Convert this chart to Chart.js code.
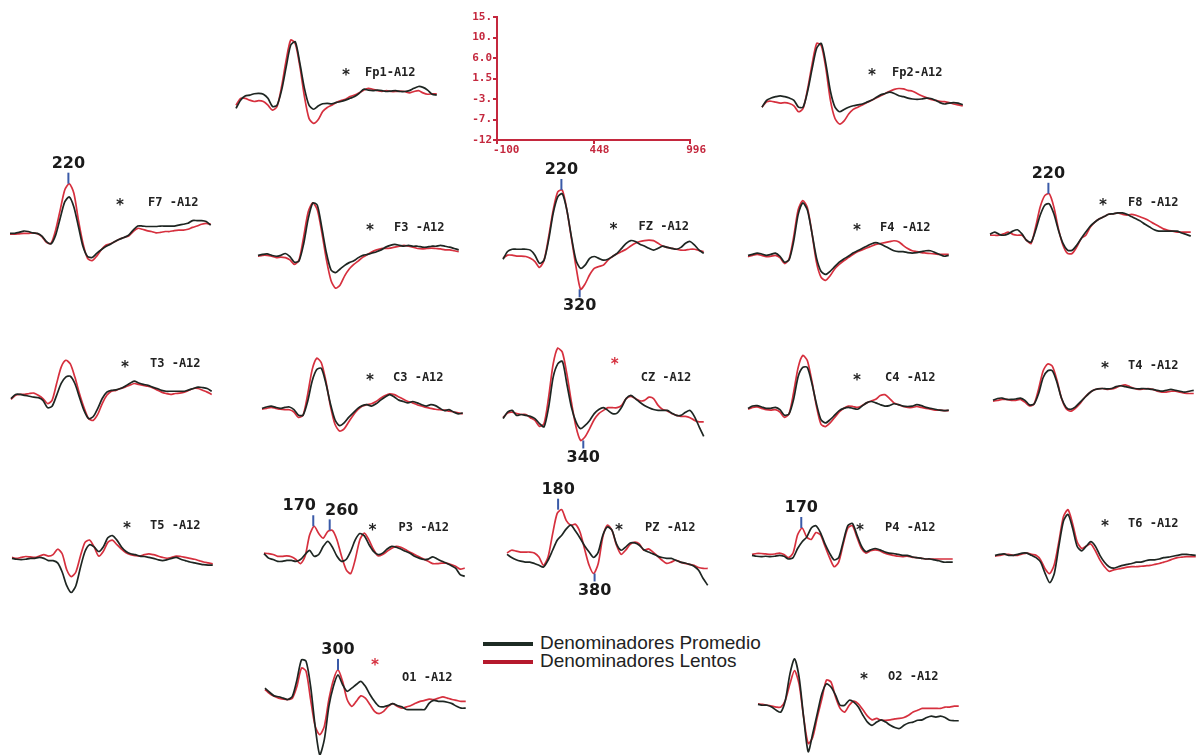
<!DOCTYPE html>
<html>
<head>
<meta charset="utf-8">
<script src="https://cdn.jsdelivr.net/npm/chart.js@4.4.1/dist/chart.umd.min.js"></script>
<style>
  body { margin: 0; background: #fff; width: 1197px; height: 755px; overflow: hidden; position: relative; }
  canvas { position: absolute; }
  .legline { position: absolute; left: 483px; width: 50px; height: 4px; }
  .legtxt { position: absolute; left: 540px; font: 19px "Liberation Sans", Arial, sans-serif; line-height: 18px; color: #222; white-space: nowrap; }
</style>
</head>
<body>
<div class="legline" style="top:642px;background:#1d2b24"></div>
<div class="legline" style="top:660px;background:#b5192d"></div>
<div class="legtxt" style="top:634px">Denominadores Promedio</div>
<div class="legtxt" style="top:652px">Denominadores Lentos</div>
<script>
// tiempo (ms) de cada muestra
const times = [-100,-75,-50,-25,0,25,50,75,100,125,150,175,200,225,250,275,300,325,350,375,400,425,450,475,500,525,550,575,600,625,650,675,700,725,750,775,800,825,850,875,900,925,950,975,1000]

// escala de referencia
const scaleX = [-100, 448, 996]
const scaleY = [-12, -7.5, -3, 1.5, 6, 10.5, 15]
const scaleYLabels = ['-12', '-7.', '-3.', '1.5', '6.0', '10.', '15.']

// uV por canal: Promedio (negro) y Lentos (rojo)
const fp1Prom = [-2.2,-0.4,0.5,0.7,1.0,1.1,0.9,0,-1.8,-1.5,1.8,6.9,11.7,12.4,7.7,2.2,-1.5,-2.4,-1.7,-1.2,-1.1,-1.2,-0.9,-0.7,-0.4,0,0.4,1.1,2.0,1.8,1.7,1.8,1.7,1.5,1.6,1.7,1.5,1.5,1.7,2.2,2.6,2.4,1.8,0.9,0.7]
const fp1Lent = [-1.5,0,0,-0.4,-0.7,-0.5,-0.7,-1.5,-2.6,-1.8,2.6,8.4,12.8,12.0,7.0,0.4,-4.4,-5.5,-4.7,-2.9,-2.0,-1.5,-0.9,-0.5,-0.2,0.4,0.7,1.2,1.8,2.2,2.0,1.7,1.5,1.7,1.5,1.5,1.6,1.5,1.2,1.5,1.7,1.2,0.9,1.0,1.0]
const fp2Prom = [-1.5,0,0.5,0.8,1.0,0.8,0.5,0,-1.5,-1.5,2,7,11.5,12.5,8,2,-1.5,-2.5,-2.0,-1.5,-1.2,-1.0,-0.8,-0.4,0,0.6,1.2,1.5,1.8,1.5,1.0,0.8,0.5,0.3,0.2,0.3,0.5,0.4,0.0,-0.5,-0.8,-0.6,-0.5,-0.6,-1.0]
const fp2Lent = [-1.5,-0.3,-0.2,-0.4,-0.6,-0.5,-0.7,-1.2,-2.5,-1.8,2.5,8,12.5,12,7,0,-4,-5.2,-4.5,-3,-2,-1.5,-1,-0.5,0,0.5,1,1.5,2,2.4,2.6,2.5,2.2,2.0,1.5,1.0,0.6,0.2,0,-0.2,-0.3,-0.5,-0.8,-1.0,-1.2]
const f7Prom = [0,0,0.2,0.5,0.4,0.1,0,-0.6,-1.8,-2.3,-0.4,3.3,6.9,8.0,5.8,1.5,-2.9,-5.1,-5.3,-4.4,-3.6,-2.9,-2.4,-1.8,-1.3,-0.9,-0.4,0.7,1.6,1.6,1.5,1.5,1.5,1.6,1.6,1.6,1.6,1.8,2.0,2.2,2.8,2.8,2.8,2.6,1.8]
const f7Lent = [-0.2,-0.2,-0.1,0,0,0.1,-0.1,-0.7,-2.0,-2.2,0.7,5.1,9.5,10.9,8.8,2.9,-2.2,-5.5,-6.0,-5.0,-3.6,-2.6,-2.3,-1.8,-1.3,-0.9,-0.6,0.4,1.1,0.9,0.6,0.4,0.1,0.2,0.4,0.4,0.6,0.7,0.7,0.9,1.3,1.6,2.0,2.2,2.0]
const f3Prom = [0,0.2,0.3,0,-0.2,0,0.4,-0.3,-1.5,-1.2,2.5,8,11.5,11,6,0.5,-3.2,-3.8,-3,-2.2,-1.6,-1.2,-0.5,0,0.2,0.5,0.8,1.2,1.8,2.2,2.4,2.2,2.0,2.2,2.0,2.0,1.8,1.8,2.0,2.0,2.2,2.0,1.8,1.5,1.2]
const f3Lent = [-0.2,0,0,-0.2,-0.5,-0.4,-0.5,-1.0,-2.0,-1.0,4.0,9.5,11.5,10,5,-1,-5.5,-7.2,-6.5,-4.5,-3,-2,-1.2,-0.4,0.2,0.8,1.2,1.5,1.5,1.6,1.8,2.0,2.2,2.0,1.8,1.5,1.4,1.5,1.6,1.5,1.4,1.2,1.2,1.0,0.8]
const fzProm = [-1.3,0.4,0.9,0.9,0.9,0.9,0.7,-0.4,-2.2,-1.5,2.9,8.8,12.4,13.1,9.5,3.6,-1.5,-3.3,-2.6,-1.1,-0.7,-1.1,-1.5,-1.3,-0.7,0,1.1,2.2,2.8,2.6,2.0,1.6,1.1,0.7,1.1,1.6,1.3,1.1,0.9,1.3,2.2,2.6,1.8,0.7,0]
const fzLent = [-1.1,-0.4,-0.4,-0.6,-0.6,-0.7,-1.1,-1.8,-3.1,-1.5,3.6,9.5,13.5,13.9,9.5,3.3,-2.9,-7.9,-6.7,-4.7,-3.3,-2.9,-2.6,-1.5,-0.7,-0.1,0.4,0.9,1.6,2.2,2.6,2.8,2.9,2.8,2.2,1.6,1.3,1.1,0.9,0.7,0.7,0.9,0.9,0.6,0.4]
const f4Prom = [0,0.2,0.5,0.3,0,0.2,0.5,-0.2,-1.5,-1.0,3,9,11.5,10,5,-0.5,-3.5,-4.2,-3.5,-2.5,-1.5,-0.8,-0.2,0.5,1.0,1.5,2.0,2.5,2.8,2.5,2.0,1.5,1.0,0.8,0.8,0.6,0.5,0.6,0.8,1.0,1.0,0.6,0.2,-0.2,0]
const f4Lent = [-0.3,0,0.2,0,-0.3,-0.2,0,-0.5,-1.8,-0.8,4,10,12,10.5,5,-1.5,-4.8,-5.5,-4.5,-3,-2,-1.2,-0.5,0.2,0.8,1.2,1.6,2.0,2.4,2.6,2.8,3.0,3.2,3.0,2.2,1.5,1.0,0.8,0.6,0.5,0.4,0.3,0.2,0.2,0.2]
const f8Prom = [0,0.5,0,-0.2,0.1,0.7,1.0,0.1,-1.3,-1.7,0.9,4.2,6.4,6.7,4.5,0.9,-2.0,-3.5,-3.5,-2.4,-0.9,0.5,1.8,2.7,3.4,3.9,4.4,4.5,4.7,4.7,4.4,3.9,3.4,2.9,2.2,1.6,1.0,0.7,0.7,0.7,0.7,0.7,0.3,0,-0.4]
const f8Lent = [-0.2,-0.2,-0.2,0.1,0.5,0,-0.2,-0.2,-1.3,-2.0,1.6,6.0,8.5,8.9,6.0,1.2,-2.4,-4.2,-4.2,-2.8,-0.9,-0.2,1.6,2.7,3.4,3.9,4.4,4.5,4.7,4.4,4.2,4.4,4.2,3.8,3.4,2.9,2.3,1.8,1.2,0.9,0.7,0.5,0.5,0.5,0.5]
const t3Prom = [-0.7,0.2,0.2,0,-0.2,-0.4,-0.5,-1.1,-2.7,-2.4,0,2.6,4.0,4.2,2.6,-0.4,-3.3,-5.1,-4.7,-2.9,-0.7,0.7,1.1,1.2,1.5,2.0,2.6,3.1,2.7,2.4,2.2,1.8,1.5,1.1,0.9,0.9,0.9,0.9,0.9,1.2,1.5,1.8,1.7,1.5,0.9]
const t3Lent = [-0.9,0,0.2,0.2,0.4,0.5,0,-0.7,-1.8,-1.1,2.6,6.2,7.7,6.9,4.0,0.4,-2.7,-5.1,-5.5,-4.2,-1.8,0,0.9,1.1,1.5,1.8,2.2,2.6,2.4,2.2,2.0,1.7,1.2,0.7,0.4,0.2,0.4,0.5,0.7,1.1,1.5,1.5,1.1,0.7,0.2]
const c3Prom = [0,0.3,0.5,0.2,0,0.2,0.3,-0.3,-1.5,-1.5,1.5,6,8.5,8.8,5.5,1,-2.5,-3.8,-3.2,-2,-1,0,0.6,0.8,0.5,1.0,1.8,2.5,3.0,2.5,1.8,1.5,1.2,1.5,1.2,0.8,0.5,0.8,0.6,0.0,-0.5,-0.3,-0.8,-1.2,-1.0]
const c3Lent = [-0.2,0,0.2,0,-0.2,-0.3,-0.3,-0.8,-2,-1.5,3,8.5,11,10,6,0.5,-3.5,-5,-4.5,-3,-1.5,-0.3,0.5,0.8,1.0,1.5,2.2,2.8,3.2,3.0,2.5,2.0,1.5,1.2,0.8,0.5,0.2,0,-0.2,-0.3,-0.4,-0.6,-0.8,-1.0,-1.2]
const czProm = [-0.5,0.9,1.3,0.2,0.4,0.2,0,-0.5,-1.6,-2.3,2.0,8.6,11.5,12.1,7.1,2.0,-1.2,-2.7,-2.0,-0.9,0.6,1.5,1.9,1.3,0.6,0.7,2.0,3.9,4.6,3.9,3.1,2.4,1.9,1.5,1.3,1.3,1.3,0.7,0.2,0.2,0.9,1.3,-0.1,-2.3,-4.4]
const czLent = [-0.3,0.7,0.9,0.6,0.4,0.4,-0.3,-0.9,-2.2,-1.6,4.2,11.5,15.0,14.1,9.3,3.1,-2.3,-5.3,-4.5,-2.7,-0.7,0.6,1.3,1.9,1.9,1.9,2.4,3.9,4.4,3.9,3.4,3.5,4.2,3.9,2.4,1.5,1.2,0.6,0.2,0,0,-0.3,-0.9,-1.2,-1.2]
const c4Prom = [0,0.5,0.6,0.3,0,0,0.2,-0.3,-1.5,-1.2,2,7,9,9,5.5,1,-2.5,-3.2,-2.5,-1.5,-0.5,0,0.2,0,-0.2,0.5,1.2,1.5,1.2,0.8,0.5,0.6,1.0,0.8,0.5,0.4,0.5,0.8,0.6,0.2,0,-0.2,-0.4,-0.5,-0.4]
const c4Lent = [-0.2,0.2,0.3,0,-0.3,-0.4,-0.3,-0.8,-2,-1.2,3.5,9,11.6,10.5,6,0.5,-3.5,-4,-3.2,-2,-0.8,0,0.5,0.4,0.2,0.6,1.2,1.6,2.0,2.8,3.0,2.2,1.2,0.8,0.4,0.2,0.2,0.4,0.2,0,-0.2,-0.4,-0.4,-0.5,-0.5]
const t4Prom = [0,0.4,0.5,0.2,0.2,0.3,0.5,0,-1,-0.8,1.5,5,6.5,6.5,4,0.5,-1.5,-2,-1.5,-0.5,0.5,1.5,2.2,2.5,2.6,2.5,2.6,3,3.2,3,2.8,2.6,2.5,2.6,2.5,2.4,2.2,2.0,2.2,2.4,2.2,2.0,1.8,2.0,2.2]
const t4Lent = [-0.2,0,0.2,0.2,0,0,0.2,-0.4,-1.2,-0.8,2.5,6.5,8,7.5,4.5,0.5,-1.8,-2.4,-1.8,-0.8,0.5,1.5,2.2,2.5,2.6,2.4,2.5,2.8,3.2,3.4,3.0,2.6,2.4,2.5,2.6,2.4,2.0,1.8,1.8,2.0,2.0,1.8,1.6,1.5,1.5]
const t5Prom = [0,-0.2,-0.3,-0.2,0,0,0.2,0,-0.5,-0.5,-1,-3,-6,-7.5,-6,-2,1.5,3,2.5,1.5,2.5,4.5,5,4,2.5,1.5,1.0,0.8,0.5,0.4,0.2,0,-0.3,-0.5,-0.3,0,0.2,-0.2,-0.5,-0.8,-1,-1.2,-1.4,-1.5,-1.5]
const t5Lent = [0.2,0,0.2,0.4,0.3,0.2,0.5,0.8,0.5,0.8,2,1,-2.5,-4,-3,0.5,3.5,4,2.5,0.5,1.5,3.5,4,3,2,1.2,0.8,0.6,0.5,0.8,1,0.8,0.5,0.2,0,0.2,0.5,0.4,0.2,0,-0.2,-0.5,-0.8,-1,-1.2]
const p3Prom = [0.6,-0.4,-0.7,-1.1,-1.1,-0.9,-0.9,-1.1,-0.7,0.4,1.3,0,0.4,2.2,3.3,2.0,0,-1.1,-0.7,1.1,3.6,5.0,4.5,2.6,1.1,0.4,0.7,1.6,2.2,2.0,1.6,1.1,0.7,0,-0.4,-0.7,-0.6,-0.1,-0.6,-1.1,-1.5,-2.0,-2.6,-4.0,-4.4]
const p3Lent = [0.7,0.6,0.4,0,0,0.1,-0.1,-0.7,-1.6,0,4.7,6.6,5.0,4.0,5.5,5.7,3.6,0,-2.9,-3.8,-0.7,3.6,5.1,3.6,1.5,0.1,0.4,1.1,1.8,2.2,2.0,1.5,0.9,0.4,-0.1,-0.6,-1.1,-1.6,-1.6,-1.5,-1.5,-1.8,-2.2,-2.8,-2.6]
const pzProm = [0,-0.7,-1.2,-1.5,-1.7,-1.7,-2.0,-2.4,-2.8,-1.3,0.9,3.1,4.2,5.6,6.4,5.1,3.6,1.9,0.5,-0.7,0.5,4.2,6.0,5.3,2.3,0.9,1.6,2.5,2.5,2.0,1.0,0.5,0.1,-0.4,-0.7,-0.9,-0.9,-1.3,-1.7,-1.9,-2.2,-2.6,-3.5,-5.3,-6.8]
const pzLent = [0.3,0.9,0.7,0.5,0.5,0.5,0.3,-0.6,-2.4,-0.6,4.5,9.0,9.8,7.4,6.4,6.6,4.9,1.2,-2.4,-4.2,-2.0,3.8,6.4,5.3,2.0,0,0.9,2.2,2.7,2.3,0.9,1.2,0.5,-0.4,-1.3,-2.0,-1.7,-1.3,-1.7,-2.0,-2.2,-2.4,-2.9,-3.1,-3.1]
const p4Prom = [0,-0.2,-0.3,-0.2,-0.3,-0.2,0,-0.2,-0.8,-0.5,1.5,3,4,6,6.5,5,2.5,0.5,-1,-0.5,3,6.5,7,4.5,2,0.8,1.2,1.5,1.2,0.8,0.5,0.4,0.2,0,0,-0.3,-0.5,-0.6,-0.8,-0.8,-1,-1.2,-1.5,-1.5,-1.5]
const p4Lent = [0.2,0.4,0.4,0.3,0.2,0.3,0.5,0.2,-0.5,0.5,4.5,6,4,3.5,5,4.5,2,-0.5,-2.5,-1.5,2.5,6,6.5,4,1.5,0.5,1,1.2,1.0,0.5,0.2,0,-0.2,-0.3,-0.2,-0.4,-0.5,-0.6,-0.8,-0.8,-0.8,-0.8,-0.8,-0.8,-0.8]
const t6Prom = [0,0.2,0.3,0,0,0.2,0.5,0.5,0,-0.5,-1.5,-4,-6,-4,2,7.5,9,6,2,1,2,3,2,0,-1.5,-2.5,-2.8,-2.5,-2.2,-2.0,-1.8,-1.5,-1.5,-1.2,-1.0,-1.0,-0.8,-0.5,-0.4,-0.2,0,0.2,0.2,0.1,0]
const t6Lent = [-0.2,0,0.2,0.2,0,0,0.3,0.5,0.2,0,-1,-3,-4,-2,3,8.5,10,7,3,1.5,2,2.5,1,-1,-2.5,-3.5,-3.2,-3,-2.8,-2.6,-2.5,-2.5,-2.4,-2.3,-2.2,-2,-1.8,-1.5,-1.2,-0.8,-0.5,-0.4,-0.3,-0.3,-0.3]
const o1Prom = [1.8,0.9,0.1,-0.1,-0.4,-0.7,0,3.6,8.0,7.7,2.2,-6.6,-12.8,-9.5,-2.2,2.2,4.7,2.6,1.1,1.8,2.6,3.3,2.2,0.4,-1.1,-2.2,-2.3,-2.0,-1.6,-2.0,-2.3,-2.9,-2.9,-2.9,-2.9,-2.9,-1.5,-0.9,-1.1,-1.1,-1.3,-1.6,-2.2,-2.6,-2.6]
const o1Lent = [1.5,0.6,0,-0.4,-0.6,-0.7,-0.4,2.2,6.2,5.5,-0.7,-6.6,-8.4,-6.6,-0.7,3.6,5.8,3.3,-0.7,-2.2,-1.1,0.1,-0.4,-1.8,-3.3,-3.8,-3.3,-2.2,-1.6,-2.2,-2.6,-2.3,-2.0,-1.5,-1.1,-0.9,-0.6,-0.7,-0.4,-0.1,-0.4,-0.7,-0.9,-1.1,-1.1]
const o2Prom = [0,-0.2,-0.2,-0.6,-1.3,-1.7,0.9,6.7,10.0,6.0,-2.8,-10.4,-6.4,-2.0,2.3,4.5,3.8,2.0,-0.2,-0.2,0.9,0.5,-0.6,-2.4,-3.9,-4.6,-3.9,-3.4,-3.9,-4.6,-5.1,-5.3,-4.6,-4.1,-3.9,-3.5,-3.4,-2.9,-2.6,-2.8,-2.6,-2.9,-3.5,-3.6,-3.6]
const o2Lent = [0.1,0,-0.2,-0.4,-0.6,-0.6,0.9,4.5,7.4,4.5,-2.8,-8.6,-7.2,-2.8,1.2,5.3,4.9,1.6,-0.9,-1.7,-0.2,0.7,0.1,-1.2,-2.6,-3.4,-3.1,-3.5,-3.5,-3.4,-3.2,-3.1,-2.9,-2.4,-1.7,-1.3,-0.9,-0.9,-0.9,-0.9,-0.9,-0.6,-0.6,-0.4,-0.4]

const negro = '#1e2622', rojo = '#d6303e', azul = '#3a5aa8', rojoEje = '#c4283e'
const PX = 123 / 27   // px por uV en cada canal

// posicion de cada canal en la pagina (x de -100 ms, y de 0 uV) y de sus textos
const canales = [
  { name: 'Fp1-A12', x: 236, y: 98.3, prom: fp1Prom, lent: fp1Lent, star: [346, 73], text: [365, 73] },
  { name: 'Fp2-A12', x: 762, y: 100, prom: fp2Prom, lent: fp2Lent, star: [872, 73], text: [892, 73] },
  { name: 'F7 -A12', x: 10, y: 233.3, prom: f7Prom, lent: f7Lent, star: [120, 203], text: [148, 203], marks: [{ t: 220, up: true }] },
  { name: 'F3 -A12', x: 258, y: 255, prom: f3Prom, lent: f3Lent, star: [370, 228], text: [394, 228] },
  { name: 'FZ -A12', x: 502.5, y: 253.3, prom: fzProm, lent: fzLent, star: [613, 227], text: [638, 227], marks: [{ t: 220, up: true }, { t: 320, up: false }] },
  { name: 'F4 -A12', x: 748, y: 255, prom: f4Prom, lent: f4Lent, star: [857, 228], text: [880, 228] },
  { name: 'F8 -A12', x: 990, y: 234, prom: f8Prom, lent: f8Lent, star: [1103, 203], text: [1128, 203], marks: [{ t: 220, up: true }] },
  { name: 'T3 -A12', x: 11, y: 395, prom: t3Prom, lent: t3Lent, star: [125, 365], text: [150, 364] },
  { name: 'C3 -A12', x: 262, y: 408, prom: c3Prom, lent: c3Lent, star: [370, 378], text: [393, 378] },
  { name: 'CZ -A12', x: 503.3, y: 416, prom: czProm, lent: czLent, star: [615, 362], text: [641, 378], redStar: true, marks: [{ t: 340, up: false }] },
  { name: 'C4 -A12', x: 748, y: 408, prom: c4Prom, lent: c4Lent, star: [857, 378], text: [885, 378] },
  { name: 'T4 -A12', x: 993, y: 400, prom: t4Prom, lent: t4Lent, star: [1105, 366], text: [1128, 366] },
  { name: 'T5 -A12', x: 12, y: 558, prom: t5Prom, lent: t5Lent, star: [127, 526], text: [150, 526] },
  { name: 'P3 -A12', x: 263.5, y: 556.7, prom: p3Prom, lent: p3Lent, star: [372, 528], text: [398, 528], marks: [{ t: 170, up: true, dx: -14 }, { t: 260, up: true, dx: 12 }] },
  { name: 'PZ -A12', x: 507, y: 554, prom: pzProm, lent: pzLent, star: [619, 528], text: [645, 528], marks: [{ t: 180, up: true }, { t: 380, up: false }] },
  { name: 'P4 -A12', x: 752, y: 555, prom: p4Prom, lent: p4Lent, star: [860, 528], text: [885, 528], marks: [{ t: 170, up: true }] },
  { name: 'T6 -A12', x: 995, y: 555, prom: t6Prom, lent: t6Lent, star: [1105, 524], text: [1128, 524] },
  { name: 'O1 -A12', x: 265, y: 696.7, prom: o1Prom, lent: o1Lent, star: [375, 663], text: [402, 678], redStar: true, marks: [{ t: 300, up: true }] },
  { name: 'O2 -A12', x: 758, y: 704, prom: o2Prom, lent: o2Lent, star: [864, 677], text: [888, 677] }
]

function nuevoCanvas(left, top, w, h) {
  const cv = document.createElement('canvas')
  cv.width = w
  cv.height = h
  cv.style.left = left + 'px'
  cv.style.top = top + 'px'
  document.body.appendChild(cv)
  return cv
}

function getCanal(c) {
  const padL = 10, padT = 55, W = 240, H = 210
  const left = c.x - padL, top = c.y - 15 * PX - padT
  const cv = nuevoCanvas(left, top, W, H)

  const textos = {
    id: 'textos',
    afterDatasetsDraw(chart) {
      const ctx = chart.ctx, xs = chart.scales.x, ys = chart.scales.y
      ctx.save()
      ctx.textBaseline = 'middle'
      ctx.fillStyle = c.redStar ? rojo : '#222'
      ctx.font = 'bold 15px "DejaVu Sans Mono"'
      ctx.textAlign = 'center'
      ctx.fillText('*', c.star[0] - left, c.star[1] - top + 3)
      ctx.fillStyle = '#222'
      ctx.font = 'bold 12px "DejaVu Sans Mono"'
      ctx.textAlign = 'left'
      ctx.fillText(c.name, c.text[0] - left, c.text[1] - top)
      ;(c.marks || []).forEach(m => {
        // pico de la curva roja cerca de la latencia marcada
        let v = null
        times.forEach((t, i) => {
          if (Math.abs(t - m.t) <= 30) {
            const d = c.lent[i]
            if (v === null || (m.up ? d > v : d < v)) v = d
          }
        })
        const px = xs.getPixelForValue(m.t), py = ys.getPixelForValue(v)
        const y2 = m.up ? py - 11 : py + 8
        ctx.strokeStyle = azul
        ctx.lineWidth = 2
        ctx.beginPath()
        ctx.moveTo(px, py)
        ctx.lineTo(px, y2)
        ctx.stroke()
        ctx.fillStyle = '#1a1a1a'
        ctx.font = 'bold 16px "DejaVu Sans"'
        ctx.textAlign = 'center'
        ctx.textBaseline = m.up ? 'bottom' : 'top'
        ctx.fillText(String(m.t), px + (m.dx || 0), m.up ? y2 - 1 : y2 + 1)
      })
      ctx.restore()
    }
  }

  new Chart(cv, {
    type: 'line',
    data: {
      labels: times,
      datasets: [
        { label: 'Denominadores Promedio', data: c.prom, borderColor: negro, borderWidth: 1.7, pointRadius: 0, tension: 0.25, clip: false, order: 0 },
        { label: 'Denominadores Lentos', data: c.lent, borderColor: rojo, borderWidth: 1.7, pointRadius: 0, tension: 0.25, clip: false, order: 1 }
      ]
    },
    options: {
      responsive: false,
      animation: false,
      events: [],
      layout: { padding: { left: padL, right: W - padL - 200, top: padT, bottom: H - padT - 123 } },
      scales: {
        x: { type: 'linear', min: -100, max: 996, display: false },
        y: { min: -12, max: 15, display: false }
      },
      plugins: { legend: { display: false }, tooltip: { enabled: false } }
    },
    plugins: [textos]
  })
}

function getEscala() {
  const cv = nuevoCanvas(440, 5, 270, 170)
  const fuente = { family: 'DejaVu Sans Mono', size: 11, weight: 'bold' }
  new Chart(cv, {
    type: 'line',
    data: { datasets: [] },
    options: {
      responsive: false,
      animation: false,
      events: [],
      layout: { padding: { left: 7, top: 12, right: 14, bottom: 0 } },
      plugins: { legend: { display: false }, tooltip: { enabled: false } },
      scales: {
        x: {
          type: 'linear', min: scaleX[0], max: scaleX[scaleX.length - 1],
          afterBuildTicks: s => { s.ticks = scaleX.map(v => ({ value: v })) },
          afterFit: s => { s.height = 35 },
          grid: { display: true, drawOnChartArea: false, drawTicks: true, tickLength: 4, color: rojoEje, lineWidth: 2 },
          border: { display: true, color: rojoEje, width: 2 },
          ticks: { color: rojoEje, font: fuente, padding: 0, align: 'start', labelOffset: -4, maxRotation: 0, autoSkip: false }
        },
        y: {
          type: 'linear', min: scaleY[0], max: scaleY[scaleY.length - 1],
          afterBuildTicks: s => { s.ticks = scaleY.map(v => ({ value: v })) },
          afterFit: s => { s.width = 50 },
          grid: { display: true, drawOnChartArea: false, drawTicks: true, tickLength: 4, color: rojoEje, lineWidth: 2 },
          border: { display: true, color: rojoEje, width: 2 },
          ticks: { color: rojoEje, font: fuente, padding: 1, autoSkip: false, callback: (v, i) => scaleYLabels[i] }
        }
      }
    }
  })
}

getEscala()
canales.forEach(getCanal)
</script>
</body>
</html>
